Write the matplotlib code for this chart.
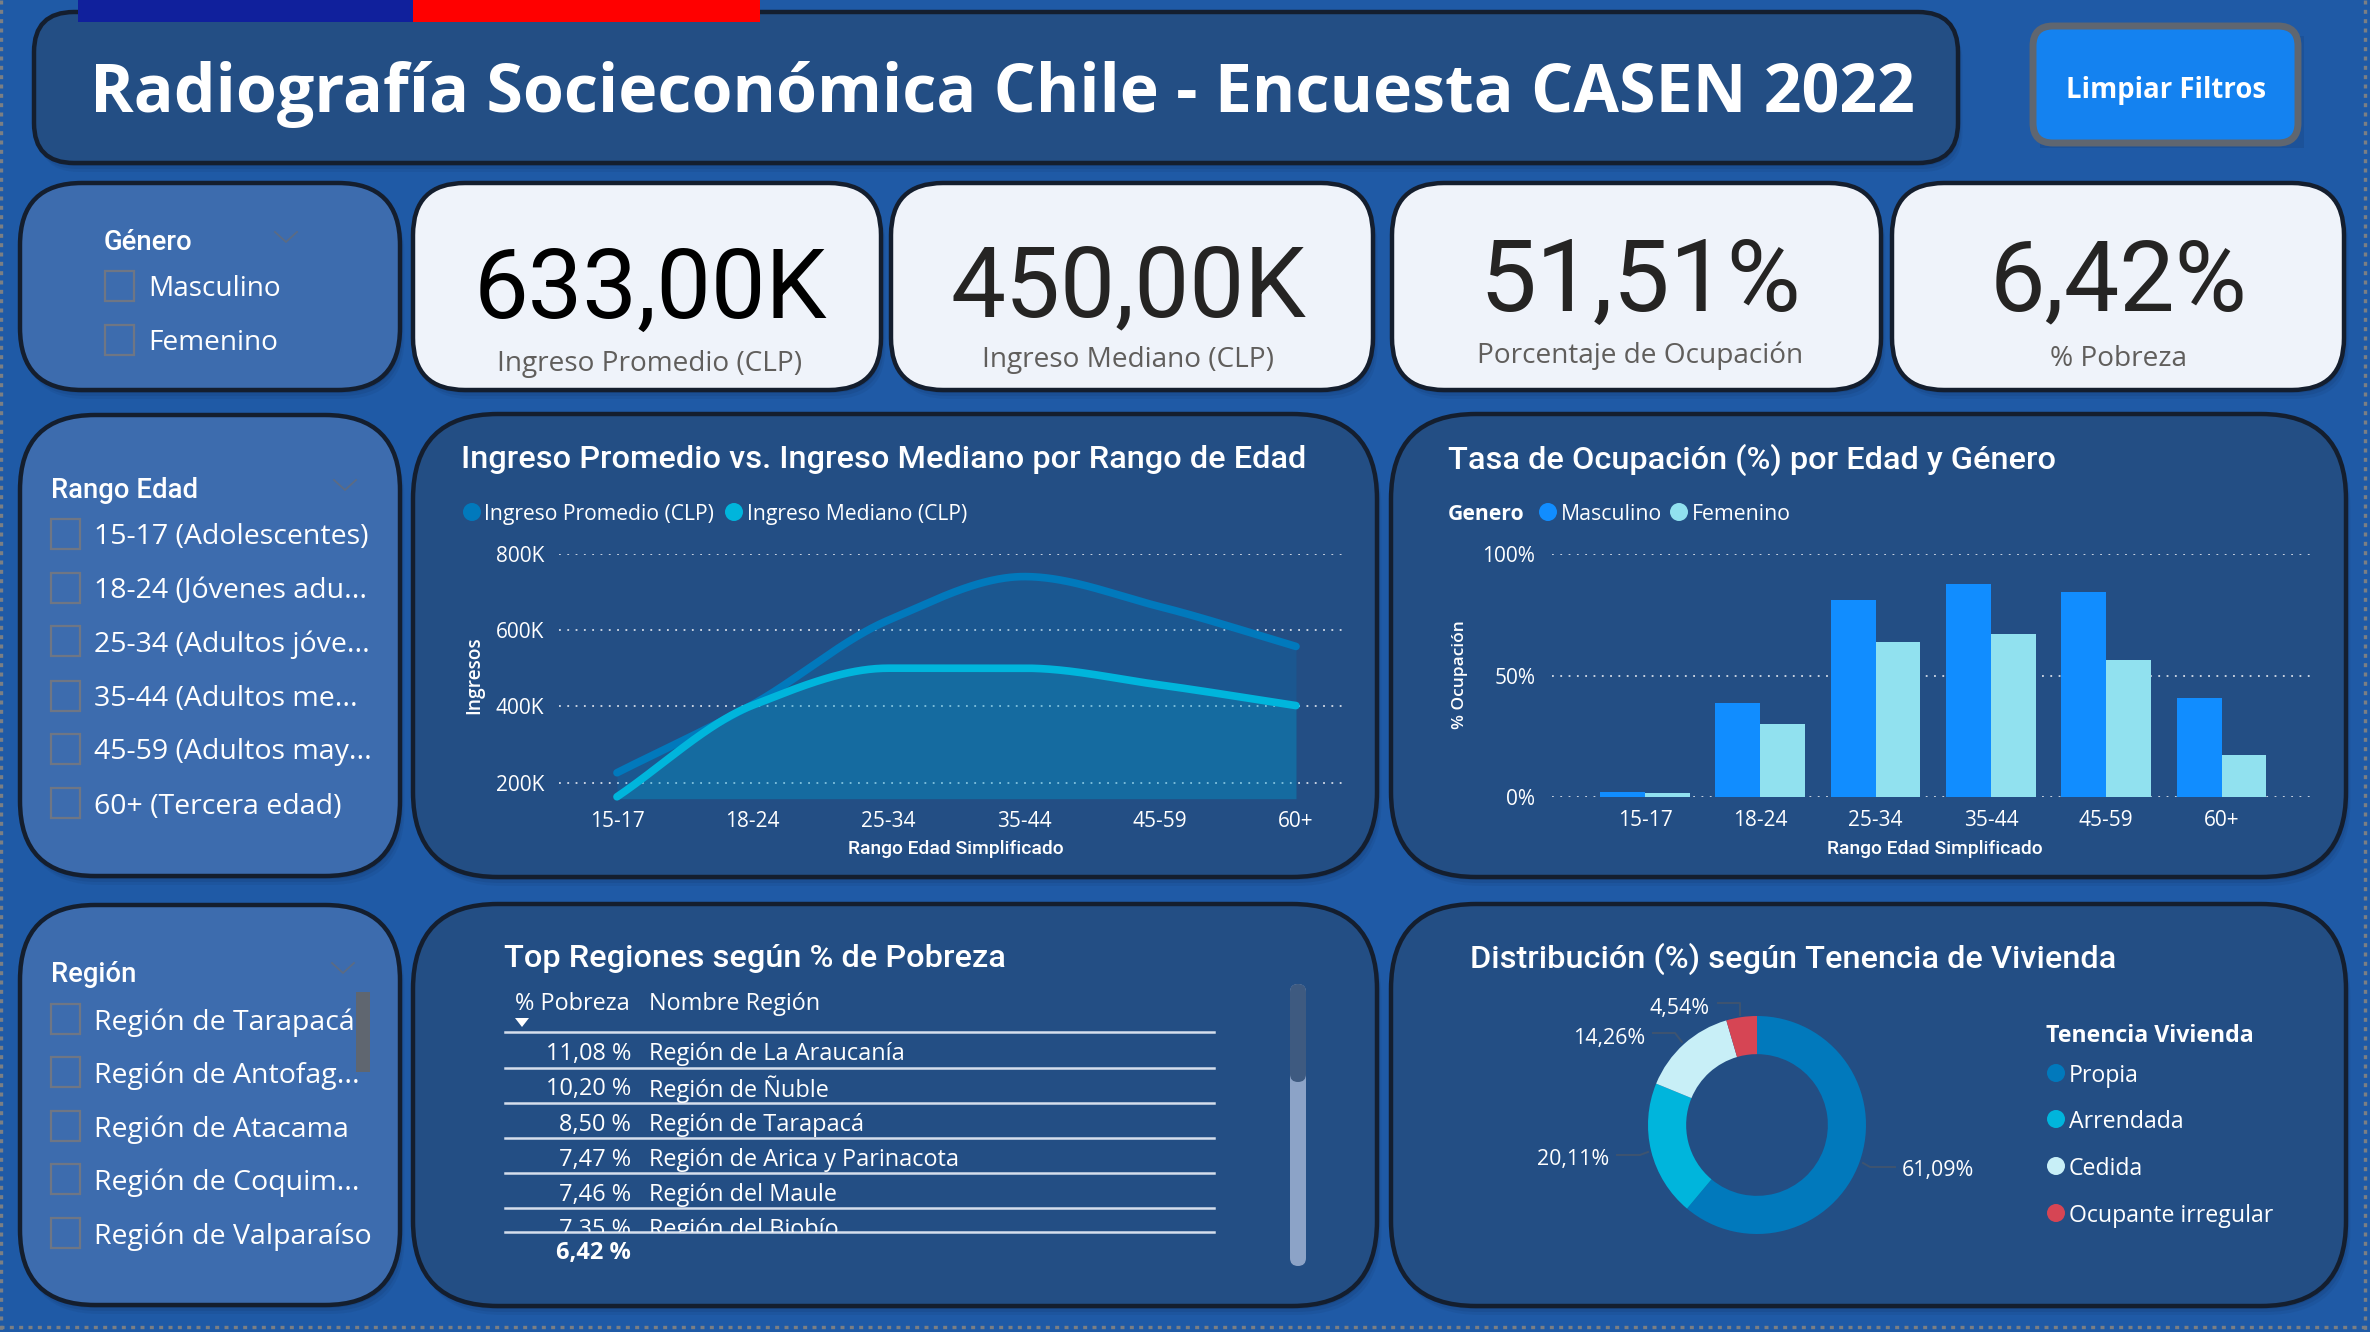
import numpy as np
import matplotlib
matplotlib.use("Agg")
from matplotlib import pyplot as plt
from matplotlib.patches import FancyBboxPatch, Circle, Rectangle, Polygon
from matplotlib.transforms import Bbox, TransformedBbox

# data
edades = ["15-17", "18-24", "25-34", "35-44", "45-59", "60+"]
ingreso_promedio = [226, 405, 626, 740, 661, 557]
ingreso_mediano = [163, 403, 500, 500, 456, 402]
ocup_masculino = [2.2, 38.9, 81.0, 87.4, 84.1, 40.6]
ocup_femenino = [1.6, 30.2, 63.9, 67.2, 56.4, 17.4]
tenencia = ["Propia", "Arrendada", "Cedida", "Ocupante irregular"]
tenencia_pct = [61.09, 20.11, 14.26, 4.54]
tenencia_lbl = ["61,09%", "20,11%", "14,26%", "4,54%"]
pobreza_pct = ["11,08 %", "10,20 %", "8,50 %", "7,47 %", "7,46 %", "7,35 %"]
pobreza_region = ["Región de La Araucanía", "Región de Ñuble", "Región de Tarapacá",
                  "Región de Arica y Parinacota", "Región del Maule", "Región del Biobío"]
kpi_valores = ["633,00K", "450,00K", "51,51%", "6,42%"]
kpi_nombres = ["Ingreso Promedio (CLP)", "Ingreso Mediano (CLP)", "Porcentaje de Ocupación", "% Pobreza"]
filtro_genero = ["Masculino", "Femenino"]
filtro_edad = ["15-17 (Adolescentes)", "18-24 (Jóvenes adu...", "25-34 (Adultos jóve...",
               "35-44 (Adultos me...", "45-59 (Adultos may...", "60+ (Tercera edad)"]
filtro_region = ["Región de Tarapacá", "Región de Antofag...", "Región de Atacama",
                 "Región de Coquim...", "Región de Valparaíso"]

W, H = 2370, 1332
BG = "#1F5AA6"
PANEL = "#234E84"
SLICER = "#3D6CAE"
CARD = "#EFF3FA"
EDGE = "#141E2E"
SEGOE = "Open Sans"
DIN = "Roboto"

fig = plt.figure(figsize=(W / 100, H / 100), dpi=100, facecolor=BG)
bg = fig.add_axes([0, 0, 1, 1])
bg.set_xlim(0, W)
bg.set_ylim(H, 0)
bg.axis("off")


def axes_px(x0, y0, x1, y1):
    ax = fig.add_axes([x0 / W, 1 - y1 / H, (x1 - x0) / W, (y1 - y0) / H])
    ax.patch.set_alpha(0)
    for s in ax.spines.values():
        s.set_visible(False)
    ax.tick_params(length=0)
    return ax


def panel(x0, y0, x1, y1, r, face, edge=EDGE, lw=3.2, shadow=True):
    box = "round,pad=0,rounding_size=%d" % r
    if shadow:
        for off, a in ((9, 0.07), (6, 0.10), (3, 0.14)):
            bg.add_patch(FancyBboxPatch((x0 + off / 2, y0 + off), x1 - x0, y1 - y0, boxstyle=box,
                                        fc="#0A1E3C", ec="none", alpha=a))
    bg.add_patch(FancyBboxPatch((x0, y0), x1 - x0, y1 - y0, boxstyle=box, fc=face, ec=edge, lw=lw))


def txt(x, y, s, size, color="white", family=SEGOE, weight="normal", ha="left", **kw):
    return bg.text(x, y, s, fontsize=size, color=color, family=family, weight=weight,
                   ha=ha, va="center_baseline", **kw)


def chevron(x, y):
    bg.plot([x - 11, x, x + 11], [y - 5, y + 5, y - 5], color="#5B6B84", lw=1.3)


def slicer(title, tx, ty, chev, items, ys, box_x, text_x, size):
    txt(tx, ty, title, 19.8, family=DIN, weight="medium")
    chevron(*chev)
    for s, y in zip(items, ys):
        bg.add_patch(Rectangle((box_x, y - 15), 29, 30, fc="none", ec="#6F7684", lw=1.6))
        txt(text_x, y, s, size)


def smooth(ys):
    # monotone cubic, same look as the "smoothed line" option of the report
    ys = np.asarray(ys, dtype=float)
    d = np.diff(ys)
    m = np.zeros(len(ys))
    for i in range(1, len(ys) - 1):
        if d[i - 1] * d[i] > 0:
            m[i] = 2 * d[i - 1] * d[i] / (d[i - 1] + d[i])
    m[0], m[-1] = d[0], d[-1]
    t = np.linspace(0, len(ys) - 1, 400)
    i = np.minimum(t.astype(int), len(ys) - 2)
    u = t - i
    yy = ((2 * u**3 - 3 * u**2 + 1) * ys[i] + (u**3 - 2 * u**2 + u) * m[i]
          + (-2 * u**3 + 3 * u**2) * ys[i + 1] + (u**3 - u**2) * m[i + 1])
    return t, yy


# page edge dots and flag
for xs, ys in (([1, 1], [0, H]), ([2365, 2365], [0, H]), ([0, W], [1327, 1327])):
    bg.plot(xs, ys, color="#7B7F84", lw=2.4, ls=(0, (1.2, 1.6)))

# header
panel(34, 12, 1958, 163, 40, PANEL)
bg.add_patch(Rectangle((78, 0), 335, 22, fc="#10209C", ec="none"))
bg.add_patch(Rectangle((413, 0), 347, 22, fc="#FF0000", ec="none"))
txt(90, 87, "Radiografía Socieconómica Chile - Encuesta CASEN 2022", 47.7, weight="bold")
bg.add_patch(Rectangle((2040, 36), 264, 112, fc="#0A1E3C", ec="none", alpha=0.12))
panel(2033, 26, 2298, 143, 20, "#1482F0", edge="#5F6670", lw=5, shadow=False)
txt(2166, 87, "Limpiar Filtros", 19.8, weight="bold", ha="center")

# KPI cards
cards = [(413, 881), (891, 1373), (1392, 1881), (1892, 2344)]
kpi_xy = [(650, 282, 360), (1128, 279, 357), (1640, 273, 352), (2119, 273, 355)]
kpi_size = [70, 70.5, 73, 71]
for i, ((x0, x1), (cx, vy, ly)) in enumerate(zip(cards, kpi_xy)):
    panel(x0, 183, x1, 390, 52, CARD)
    txt(cx, vy, kpi_valores[i], kpi_size[i], color="black" if i == 0 else "#252423", family=DIN, ha="center")
    txt(cx, ly, kpi_nombres[i], 20.2, color="#605E5C", ha="center")

# slicers
panel(20, 183, 400, 390, 62, SLICER)
slicer("Género", 104, 239, (286, 237), filtro_genero, [286, 340], 105, 148, 20.2)
panel(20, 415, 400, 876, 75, SLICER)
slicer("Rango Edad", 51, 488, (345, 485), filtro_edad, [534, 588, 641, 696, 749, 803], 51, 94, 20.5)
panel(20, 905, 400, 1305, 75, SLICER)
slicer("Región", 51, 972, (343, 968), filtro_region, [1019, 1072, 1126, 1179, 1233], 51, 94, 20.5)
bg.add_patch(Rectangle((356, 992), 14, 80, fc="#5F6670", ec="none"))

# line / area chart
panel(413, 414, 1377, 877, 85, PANEL)
txt(461, 456.5, "Ingreso Promedio vs. Ingreso Mediano por Rango de Edad", 23.4, family=DIN, weight="medium")
COL_PROM, COL_MED = "#0179BC", "#00B5DC"
bg.add_patch(Circle((472, 512), 9, fc=COL_PROM, ec="none"))
txt(484, 512, "Ingreso Promedio (CLP)", 15.2)
bg.add_patch(Circle((734, 512), 9, fc=COL_MED, ec="none"))
txt(747, 512, "Ingreso Mediano (CLP)", 15.2)

ax = axes_px(559, 553.7, 1348, 798.7)
x = np.arange(len(edades))
ax.set_xlim(-0.427, 5.383)
ax.set_ylim(158, 800)
ax.set_yticks([200, 400, 600, 800], ["200K", "400K", "600K", "800K"])
ax.set_xticks(x, edades)
ax.grid(axis="y", color="#D5DCE8", lw=1.3, ls=(0, (1, 3.6)), zorder=0)
ax.set_axisbelow(True)
for vals, col in ((ingreso_promedio, COL_PROM), (ingreso_mediano, COL_MED)):
    t, yy = smooth(vals)
    ax.fill_between(t, 158, yy, color=col, alpha=0.22, lw=0)
    ax.plot(t, yy, color=col, lw=5.5, solid_capstyle="round", clip_on=False)
ax.tick_params(axis="y", labelsize=15, labelcolor="white", pad=10.7)
ax.tick_params(axis="x", labelsize=15, labelcolor="white", pad=9)
for lb in ax.get_xticklabels() + ax.get_yticklabels():
    lb.set_family(SEGOE)
txt(956, 847, "Rango Edad Simplificado", 13.9, ha="center", weight="medium", family=DIN)
txt(472, 675, "Ingresos", 13.8, ha="center", rotation=90, weight="semibold", rotation_mode="anchor")

# grouped bars
panel(1391, 414, 2346, 877, 85, PANEL)
txt(1448, 456.5, "Tasa de Ocupación (%) por Edad y Género", 23.4, family=DIN, weight="medium")
COL_M, COL_F = "#118DFF", "#91E1EF"
txt(1448, 512, "Genero", 15.2, weight="bold")
bg.add_patch(Circle((1548, 512), 9, fc=COL_M, ec="none"))
txt(1561, 512, filtro_genero[0], 15.3)
bg.add_patch(Circle((1679, 512), 9, fc=COL_F, ec="none"))
txt(1692, 512, filtro_genero[1], 15.3)

ax = axes_px(1552, 553.7, 2312.5, 797.3)
ax.set_xlim(-0.807, 5.789)
ax.set_ylim(0, 100)
ax.set_yticks([0, 50, 100], ["0%", "50%", "100%"])
ax.set_xticks(x, edades)
ax.grid(axis="y", color="#D5DCE8", lw=1.3, ls=(0, (1, 3.6)), zorder=0)
ax.set_axisbelow(True)
bw = 0.389
ax.bar(x - bw / 2, ocup_masculino, bw, color=COL_M, zorder=2)
ax.bar(x + bw / 2, ocup_femenino, bw, color=COL_F, zorder=2)
ax.tick_params(axis="y", labelsize=15, labelcolor="white", pad=12)
ax.tick_params(axis="x", labelsize=15, labelcolor="white", pad=9)
for lb in ax.get_xticklabels() + ax.get_yticklabels():
    lb.set_family(SEGOE)
txt(1935, 847, "Rango Edad Simplificado", 13.9, ha="center", weight="medium", family=DIN)
txt(1458, 675, "% Ocupación", 12.5, ha="center", rotation=90, weight="semibold", rotation_mode="anchor")

# table
panel(413, 904, 1377, 1306, 85, PANEL)
txt(504, 955.5, "Top Regiones según % de Pobreza", 23.4, family=DIN, weight="medium")
txt(515, 1001, "% Pobreza", 16.9)
txt(649, 1001, "Nombre Región", 16.9)
bg.add_patch(Polygon([[515, 1018], [529, 1018], [522, 1027]], fc="white", ec="none"))
for yl in [1032, 1068, 1103, 1138, 1173, 1208, 1232]:
    bg.plot([505, 1214], [yl, yl], color="#D5DEEC", lw=1.8, zorder=3)
clip = TransformedBbox(Bbox([[505, 1000], [1214, 1232]]), bg.transData)
row_y = [1051, 1086, 1122, 1157, 1192, 1227]
for p, r, y in zip(pobreza_pct, pobreza_region, row_y):
    for t in (txt(631, y, p, 16.9, ha="right"), txt(649, y, r, 16.9)):
        t.set_clip_box(clip)
        t.set_clip_on(True)
txt(631, 1250, "6,42 %", 17, ha="right", weight="bold")
bg.add_patch(FancyBboxPatch((1290, 984), 16, 282, boxstyle="round,pad=0,rounding_size=8", fc="#8CA3C7", ec="none"))
bg.add_patch(FancyBboxPatch((1290, 984), 16, 98, boxstyle="round,pad=0,rounding_size=8", fc="#3E5A80", ec="none"))

# donut
panel(1391, 904, 2346, 1306, 85, PANEL)
txt(1470, 955.5, "Distribución (%) según Tenencia de Vivienda", 23.4, family=DIN, weight="medium")
COL_TEN = ["#0179BC", "#00B5DC", "#C8EFF7", "#D64554"]
ax = axes_px(1648, 1016, 1866, 1234)
ax.pie(tenencia_pct, colors=COL_TEN, startangle=90, counterclock=False, radius=1,
       wedgeprops={"width": 0.35, "linewidth": 0})
ax.set_xlim(-1, 1)
ax.set_ylim(-1, 1)
LEAD = "#3E5470"
bg.plot([1863, 1870, 1895], [1163, 1167, 1167], color=LEAD, lw=1.4)
bg.plot([1617, 1640, 1648], [1155, 1155, 1152], color=LEAD, lw=1.4)
bg.plot([1653, 1675, 1682], [1033, 1033, 1042], color=LEAD, lw=1.4)
bg.plot([1718, 1740, 1740], [1003, 1003, 1015], color=LEAD, lw=1.4)
txt(1902, 1168, tenencia_lbl[0], 15.4)
txt(1609, 1157, tenencia_lbl[1], 15.4, ha="right")
txt(1645, 1036, tenencia_lbl[2], 15.4, ha="right")
txt(1710, 1006, tenencia_lbl[3], 15.4, ha="right")
txt(2046, 1033, "Tenencia Vivienda", 16.7, weight="bold")
for nombre, col, y in zip(tenencia, COL_TEN, [1073, 1119, 1166, 1213]):
    bg.add_patch(Circle((2056, y), 9, fc=col, ec="none"))
    txt(2069, y, nombre, 16.7)

fig.savefig("out.png", dpi=100, facecolor=BG)
